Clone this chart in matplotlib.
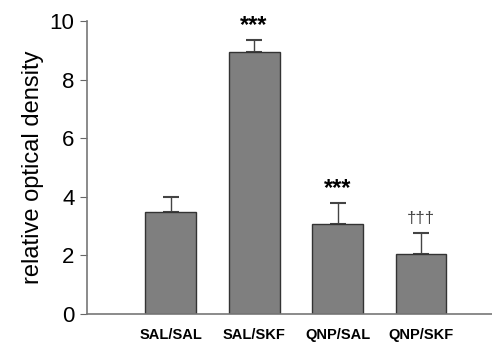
import matplotlib
matplotlib.use("Agg")
import matplotlib.pyplot as plt

groups = ["SAL/SAL", "SAL/SKF", "QNP/SAL", "QNP/SKF"]
means = [3.48, 8.93, 3.06, 2.04]
errors = [0.52, 0.42, 0.72, 0.73]
marks = ["", "***", "***", "\u2020\u2020\u2020"]

plt.rcParams["font.family"] = ["Liberation Sans", "DejaVu Sans"]

fig = plt.figure(figsize=(4.92, 3.46), dpi=100)
ax = fig.add_axes([0.177, 0.0925, 0.823, 0.8465])

pos = list(range(1, len(groups) + 1))
ax.bar(pos, means, width=0.61, color="#7f7f7f", edgecolor="#333333", linewidth=1.0, zorder=2)
ax.errorbar(pos, means, yerr=[[0] * len(errors), errors], fmt="none",
            ecolor="#444444", elinewidth=1.0, capsize=6, capthick=1.5, zorder=1)

for x, m, e, s in zip(pos, means, errors, marks):
    if not s:
        continue
    if s.startswith("*"):
        ax.text(x, m + e + 0.12, s, ha="center", va="bottom", fontsize=17, fontweight="bold")
    else:
        ax.text(x, m + e + 0.25, s, ha="center", va="bottom", fontsize=12, color="#444444")

ax.set_xlim(0, 4.85)
ax.set_ylim(0, 10)
ax.set_yticks([0, 2, 4, 6, 8, 10])
ax.set_xticks(pos)
ax.set_xticklabels(groups, fontsize=10.5, fontweight="bold")
ax.tick_params(axis="x", length=0, pad=10)
ax.tick_params(axis="y", labelsize=16, length=5, color="#666666", direction="out", pad=4)
ax.set_ylabel("relative optical density", fontsize=17, labelpad=4)

for side in ["top", "right"]:
    ax.spines[side].set_visible(False)
for side in ["left", "bottom"]:
    ax.spines[side].set_color("#777777")
    ax.spines[side].set_linewidth(1.2)

fig.savefig("out.png", dpi=100)
